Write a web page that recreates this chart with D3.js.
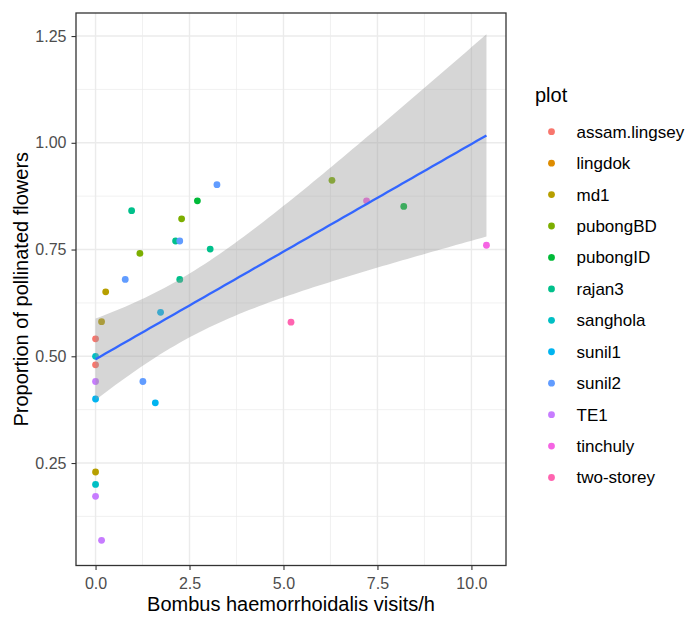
<!DOCTYPE html>
<html>
<head>
<meta charset="utf-8">
<script src="https://cdn.jsdelivr.net/npm/d3@7"></script>
<style>
  html, body { margin: 0; padding: 0; background: #ffffff; }
  svg { display: block; font-family: "Liberation Sans", Arial, sans-serif; }
</style>
</head>
<body>
<svg id="chart" width="690" height="617"></svg>
<script>
// Plot sites (legend order) and their hue colours
const plots = ["assam.lingsey", "lingdok", "md1", "pubongBD", "pubongID", "rajan3",
               "sanghola", "sunil1", "sunil2", "TE1", "tinchuly", "two-storey"];
const plotColors = ["#F8766D", "#DE8C00", "#B79F00", "#7CAE00", "#00BA38", "#00C08B",
                    "#00BFC4", "#00B4F0", "#619CFF", "#C77CFF", "#F564E3", "#FF64B0"];

// One entry per observation: site, visits per hour, proportion of pollinated flowers
const obsPlot = ["assam.lingsey", "assam.lingsey",
                 "md1", "md1", "md1",
                 "pubongBD", "pubongBD", "pubongBD",
                 "pubongID", "pubongID",
                 "rajan3", "rajan3", "rajan3", "rajan3",
                 "sanghola", "sanghola",
                 "sunil1", "sunil1", "sunil1",
                 "sunil2", "sunil2", "sunil2", "sunil2",
                 "TE1", "TE1", "TE1",
                 "tinchuly", "tinchuly",
                 "two-storey"];
const visits = [0.00, 0.00,
                0.27, 0.16, 0.00,
                2.29, 1.18, 6.29,
                2.71, 8.20,
                0.96, 2.13, 3.05, 2.24,
                0.00, 0.00,
                1.73, 0.00, 1.59,
                3.23, 2.24, 0.79, 1.26,
                0.00, 0.00, 0.16,
                7.21, 10.40,
                5.20];
const pollinated = [0.541, 0.480,
                    0.651, 0.581, 0.229,
                    0.822, 0.741, 0.912,
                    0.864, 0.851,
                    0.841, 0.770, 0.751, 0.680,
                    0.500, 0.200,
                    0.603, 0.400, 0.391,
                    0.902, 0.770, 0.680, 0.441,
                    0.441, 0.172, 0.069,
                    0.864, 0.760,
                    0.580];

const xTicks = [0, 2.5, 5, 7.5, 10];
const yTicks = [0.25, 0.50, 0.75, 1.00, 1.25];
const xMinor = [1.25, 3.75, 6.25, 8.75];
const yMinor = [0.125, 0.375, 0.625, 0.875, 1.125];
const yLimits = [0.010, 1.304];

const xTitle = "Bombus haemorrhoidalis visits/h";
const yTitle = "Proportion of pollinated flowers";
const legendTitle = "plot";

// ---- linear model fit with 95% confidence band ----
const n = visits.length;
const mx = d3.mean(visits), my = d3.mean(pollinated);
let sxx = 0, sxy = 0;
for (let i = 0; i < n; i++) {
  sxx += (visits[i] - mx) ** 2;
  sxy += (visits[i] - mx) * (pollinated[i] - my);
}
const slope = sxy / sxx;
const intercept = my - slope * mx;
let sse = 0;
for (let i = 0; i < n; i++) sse += (pollinated[i] - intercept - slope * visits[i]) ** 2;
const df = n - 2;
const sigma = Math.sqrt(sse / df);

// Student t quantile (0.975) via Cornish-Fisher expansion around the normal quantile
function tQuantile975(v) {
  const z = 1.959963985;
  const g1 = (z ** 3 + z) / 4;
  const g2 = (5 * z ** 5 + 16 * z ** 3 + 3 * z) / 96;
  const g3 = (3 * z ** 7 + 19 * z ** 5 + 17 * z ** 3 - 15 * z) / 384;
  const g4 = (79 * z ** 9 + 776 * z ** 7 + 1482 * z ** 5 - 1920 * z ** 3 - 945 * z) / 92160;
  return z + g1 / v + g2 / v ** 2 + g3 / v ** 3 + g4 / v ** 4;
}
const tq = tQuantile975(df);

const [xMin, xMax] = d3.extent(visits);
const fit = d3.range(80).map(k => {
  const x = xMin + (xMax - xMin) * k / 79;
  const yhat = intercept + slope * x;
  const se = sigma * Math.sqrt(1 / n + (x - mx) ** 2 / sxx);
  return { x, y: yhat, lo: yhat - tq * se, hi: yhat + tq * se };
});

// ---- scales (x: 5% expansion of the data range) ----
const panel = { left: 76, right: 506, top: 13, bottom: 565.5 };
const xPad = (xMax - xMin) * 0.05;
const x = d3.scaleLinear().domain([xMin - xPad, xMax + xPad]).range([panel.left, panel.right]);
const y = d3.scaleLinear().domain(yLimits).range([panel.bottom, panel.top]);
const color = d3.scaleOrdinal().domain(plots).range(plotColors);

const svg = d3.select("#chart");
svg.append("rect").attr("width", 690).attr("height", 617).attr("fill", "#ffffff");

svg.append("defs").append("clipPath").attr("id", "panel-clip")
  .append("rect")
  .attr("x", panel.left).attr("y", panel.top)
  .attr("width", panel.right - panel.left).attr("height", panel.bottom - panel.top);

// grid
const grid = svg.append("g");
grid.selectAll(".xminor").data(xMinor).join("line")
  .attr("x1", d => x(d)).attr("x2", d => x(d))
  .attr("y1", panel.top).attr("y2", panel.bottom)
  .attr("stroke", "#ebebeb").attr("stroke-width", 0.7);
grid.selectAll(".yminor").data(yMinor).join("line")
  .attr("y1", d => y(d)).attr("y2", d => y(d))
  .attr("x1", panel.left).attr("x2", panel.right)
  .attr("stroke", "#ebebeb").attr("stroke-width", 0.7);
grid.selectAll(".xmajor").data(xTicks).join("line")
  .attr("x1", d => x(d)).attr("x2", d => x(d))
  .attr("y1", panel.top).attr("y2", panel.bottom)
  .attr("stroke", "#ebebeb").attr("stroke-width", 1.4);
grid.selectAll(".ymajor").data(yTicks).join("line")
  .attr("y1", d => y(d)).attr("y2", d => y(d))
  .attr("x1", panel.left).attr("x2", panel.right)
  .attr("stroke", "#ebebeb").attr("stroke-width", 1.4);

// points
const pts = d3.range(n).map(i => ({ plot: obsPlot[i], x: visits[i], y: pollinated[i] }));
svg.append("g").attr("clip-path", "url(#panel-clip)")
  .selectAll("circle").data(pts).join("circle")
  .attr("cx", d => x(d.x)).attr("cy", d => y(d.y)).attr("r", 3.4)
  .attr("fill", d => color(d.plot));

// confidence band and fitted line
const smooth = svg.append("g").attr("clip-path", "url(#panel-clip)");
smooth.append("path").datum(fit)
  .attr("d", d3.area().x(d => x(d.x)).y0(d => y(d.lo)).y1(d => y(d.hi)))
  .attr("fill", "#999999").attr("fill-opacity", 0.4);
smooth.append("path").datum(fit)
  .attr("d", d3.line().x(d => x(d.x)).y(d => y(d.y)))
  .attr("fill", "none").attr("stroke", "#3366FF").attr("stroke-width", 2.3);

// panel border
svg.append("rect")
  .attr("x", panel.left).attr("y", panel.top)
  .attr("width", panel.right - panel.left).attr("height", panel.bottom - panel.top)
  .attr("fill", "none").attr("stroke", "#333333").attr("stroke-width", 1.3);

// axes
const xAxis = svg.append("g").attr("transform", `translate(0,${panel.bottom})`)
  .call(d3.axisBottom(x).tickValues(xTicks).tickFormat(d3.format(".1f")).tickSize(4.5).tickPadding(8));
const yAxis = svg.append("g").attr("transform", `translate(${panel.left},0)`)
  .call(d3.axisLeft(y).tickValues(yTicks).tickFormat(d3.format(".2f")).tickSize(4.5).tickPadding(5));
[xAxis, yAxis].forEach(a => {
  a.select(".domain").remove();
  a.selectAll(".tick line").attr("stroke", "#333333").attr("stroke-width", 1.1);
  a.selectAll(".tick text").attr("fill", "#4d4d4d")
    .style("font-family", "'Liberation Sans', Arial, sans-serif").style("font-size", "16px");
});

// axis titles
svg.append("text")
  .attr("x", (panel.left + panel.right) / 2).attr("y", 611)
  .attr("text-anchor", "middle").attr("font-size", 20).attr("fill", "#000000")
  .text(xTitle);
svg.append("text")
  .attr("transform", `translate(28,${(panel.top + panel.bottom) / 2}) rotate(-90)`)
  .attr("text-anchor", "middle").attr("font-size", 20).attr("fill", "#000000")
  .text(yTitle);

// legend
const legend = svg.append("g");
legend.append("text").attr("x", 535).attr("y", 102)
  .attr("font-size", 20).attr("fill", "#000000").text(legendTitle);
const keyY = d3.scalePoint().domain(plots).range([131.7, 477.5]);
const item = legend.selectAll(".item").data(plots).join("g")
  .attr("transform", d => `translate(0,${keyY(d)})`);
item.append("circle").attr("cx", 551.5).attr("cy", 0).attr("r", 3.4)
  .attr("fill", d => color(d));
item.append("text").attr("x", 576.5).attr("y", 0).attr("dy", "0.35em")
  .attr("font-size", 17).attr("fill", "#000000").text(d => d);
</script>
</body>
</html>
